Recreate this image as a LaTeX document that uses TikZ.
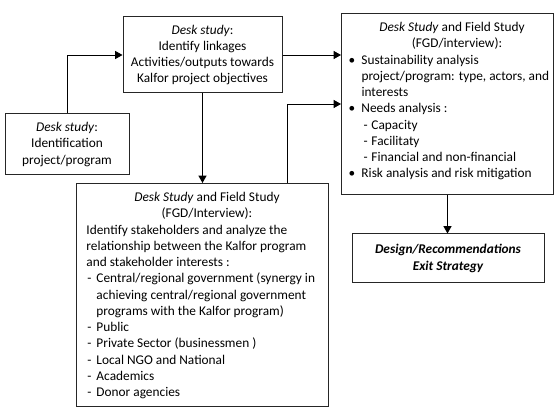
\documentclass[tikz,border=0pt]{standalone}
\usepackage{fontspec}
\setmainfont{Carlito}
\usetikzlibrary{arrows.meta,calc}
\begin{document}
\begin{tikzpicture}[x=0.75pt,y=-0.75pt,
  box/.style={draw=black!85, line width=0.75pt, rectangle, inner sep=0pt, font=\fontsize{10}{12.2}\selectfont},
  conn/.style={draw=black, line width=0.7pt, -{Triangle[length=5.5pt,width=6pt]}}]
\useasboundingbox (0,0) rectangle (558,420);

\node[box, minimum width=119.25pt, minimum height=57pt, align=center] (top) at (202.5,55)
  {\textit{Desk study}:\\Identify linkages\\Activities/outputs towards\\Kalfor project objectives};

\node[box, minimum width=93pt, minimum height=45.75pt, align=center] (left) at (67,144.5)
  {\textit{Desk study}:\\Identification\\project/program};

\node[box, anchor=north west] (right) at (341,13) {\begin{minipage}[t][135.75pt][t]{159pt}
{\centering\rule{0pt}{13.5pt}\hspace*{6.75pt}\textit{Desk Study} and Field Study\\
\hspace*{14.25pt}(FGD/interview):\par}
\raggedright
\hspace*{5.25pt}\makebox[9.75pt][l]{\textbullet}Sustainability analysis\\
\hspace*{15pt}project/program: type, actors, and\\
\hspace*{15pt}interests\\
\hspace*{5.25pt}\makebox[9.75pt][l]{\textbullet}Needs analysis :\\
\hspace*{16.5pt}\makebox[6pt][l]{-}Capacity\\
\hspace*{16.5pt}\makebox[6pt][l]{-}Facilitaty\\
\hspace*{16.5pt}\makebox[6pt][l]{-}Financial and non-financial\\
\hspace*{5.25pt}\makebox[9.75pt][l]{\textbullet}Risk analysis and risk mitigation
\end{minipage}};

\node[box, anchor=north west] (bottom) at (76,183) {\begin{minipage}[t][167.25pt][t]{189pt}
{\centering\rule{0pt}{13.5pt}\hspace*{6.75pt}\textit{Desk Study} and Field Study\\
\hspace*{6.75pt}(FGD/Interview):\par}
\raggedright
\hspace*{7.5pt}Identify stakeholders and analyze the\\
\hspace*{7.5pt}relationship between the Kalfor program\\
\hspace*{7.5pt}and stakeholder interests :\\
\hspace*{8.25pt}\makebox[6.75pt][l]{-}Central/regional government (synergy in\\
\hspace*{15pt}achieving central/regional government\\
\hspace*{15pt}programs with the Kalfor program)\\
\hspace*{8.25pt}\makebox[6.75pt][l]{-}Public\\
\hspace*{8.25pt}\makebox[6.75pt][l]{-}Private Sector (businessmen )\\
\hspace*{8.25pt}\makebox[6.75pt][l]{-}Local NGO and National\\
\hspace*{8.25pt}\makebox[6.75pt][l]{-}Academics\\
\hspace*{8.25pt}\makebox[6.75pt][l]{-}Donor agencies
\end{minipage}};

\node[box, minimum width=144pt, minimum height=36.75pt, align=center,
  font=\fontsize{10}{12.2}\selectfont\bfseries\itshape] (exit) at (448,258.5)
  {Design/Recommendations\\Exit Strategy};

\draw[conn] (left.north) |- (top.west);
\draw[conn] (top.east) -- (top.east -| right.west);
\draw[conn] (top.south) -- (top.south |- bottom.north);
\draw[conn] ($(bottom.north)+(85,0)$) |- (right.west);
\draw[conn] (right.south) -- (right.south |- exit.north);
\end{tikzpicture}
\end{document}
